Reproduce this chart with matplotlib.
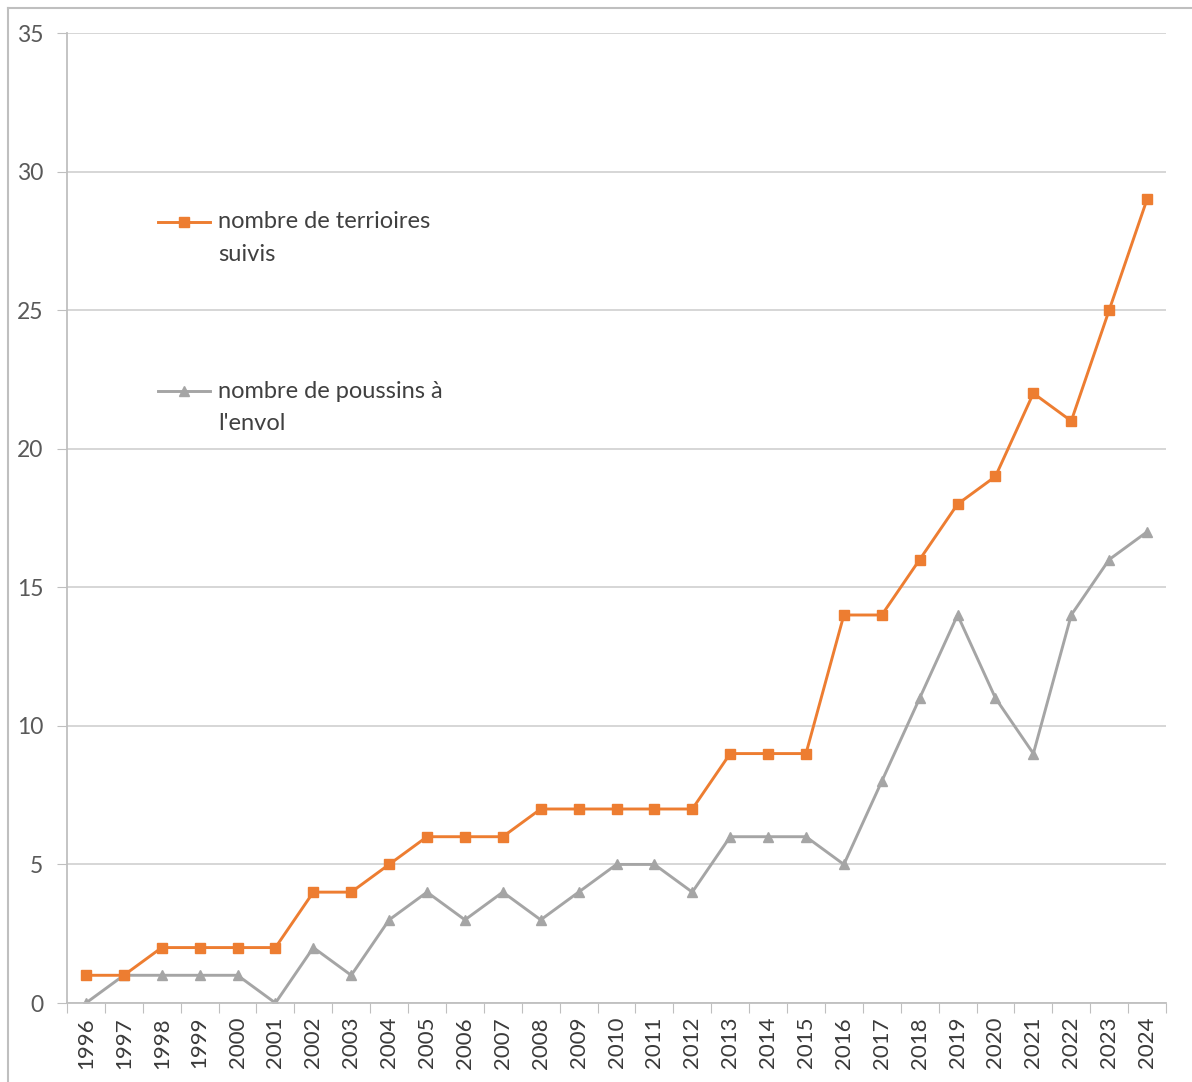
import matplotlib
matplotlib.use("Agg")
import matplotlib.pyplot as plt
from matplotlib.lines import Line2D
from matplotlib.legend_handler import HandlerLine2D
import numpy as np

years = [str(y) for y in range(1996, 2025)]
territoires = [1, 1, 2, 2, 2, 2, 4, 4, 5, 6, 6, 6, 7, 7, 7, 7, 7, 9, 9, 9,
               14, 14, 16, 18, 19, 22, 21, 25, 29]
poussins = [0, 1, 1, 1, 1, 0, 2, 1, 3, 4, 3, 4, 3, 4, 5, 5, 4, 6, 6, 6,
            5, 8, 11, 14, 11, 9, 14, 16, 17]
label_terr = "nombre de terrioires\nsuivis"
label_pous = "nombre de poussins à\nl'envol"
yticks = [0, 5, 10, 15, 20, 25, 30, 35]

plt.rcParams['font.family'] = ['Lato', 'DejaVu Sans']
ORANGE = "#ED7D31"
GRAY = "#A5A5A5"
TXT = "#595959"


class FirstLineHandler(HandlerLine2D):
    def __init__(self, dy, **kw):
        super().__init__(**kw)
        self.dy = dy

    def create_artists(self, legend, orig_handle, xdescent, ydescent, width,
                       height, fontsize, trans):
        arts = super().create_artists(legend, orig_handle, xdescent, ydescent,
                                      width, height, fontsize, trans)
        for a in arts:
            a.set_ydata(np.asarray(a.get_ydata()) + self.dy)
        return arts


fig = plt.figure(figsize=(11.92, 10.82), dpi=100)
ax = fig.add_axes([67/1192, 1 - 1003/1082, (1166-67)/1192, (1003-33)/1082])

x = np.arange(len(years)) + 0.5
l1, = ax.plot(x, territoires, color=ORANGE, lw=2.1, marker='s', ms=7.5,
              label=label_terr, zorder=3)
l2, = ax.plot(x, poussins, color=GRAY, lw=2.1, marker='^', ms=7.5,
              label=label_pous, zorder=2)

ax.set_xlim(0, len(years))
ax.set_ylim(0, 35)
ax.set_yticks(yticks)
ax.set_yticklabels([str(v) for v in yticks], fontsize=16.5, color=TXT)
ax.set_xticks(np.arange(len(years) + 1), minor=False)
ax.set_xticklabels([])
ax.set_xticks(x, minor=True)
ax.set_xticklabels(years, minor=True, rotation=90, fontsize=16, color='#3a3a3a')
ax.tick_params(axis='x', which='major', length=7, color='#BFBFBF', direction='out')
ax.tick_params(axis='x', which='minor', length=0, pad=10)
ax.tick_params(axis='y', length=7, color='#BFBFBF', pad=10)
ax.grid(axis='y', color='#D0D0D0', lw=1.2, zorder=0)
ax.set_axisbelow(True)
for s in ['top', 'right']:
    ax.spines[s].set_visible(False)
for s in ['left', 'bottom']:
    ax.spines[s].set_color('#BFBFBF')
    ax.spines[s].set_linewidth(1.3)

LFS = 17
common = dict(loc='upper left', frameon=False, fontsize=LFS, handlelength=2.2,
              handletextpad=0.35, borderpad=0, borderaxespad=0,
              labelcolor='#404040')
leg1 = ax.legend(handles=[l1], bbox_to_anchor=(0.083, 0.816),
                 handler_map={l1: FirstLineHandler(12.0)}, **common)
for t in leg1.get_texts():
    t.set_linespacing(1.65)
ax.add_artist(leg1)
leg2 = ax.legend(handles=[l2], bbox_to_anchor=(0.083, 0.641),
                 handler_map={l2: FirstLineHandler(12.0)}, **common)
for t in leg2.get_texts():
    t.set_linespacing(1.65)

# outer chart frame
fig.add_artist(Line2D([8/1192, 1], [1 - 8/1082, 1 - 8/1082], color='#BFBFBF', lw=1.5,
                      transform=fig.transFigure))
fig.add_artist(Line2D([8/1192, 8/1192], [0, 1 - 8/1082], color='#BFBFBF', lw=1.5,
                      transform=fig.transFigure))

fig.savefig("out.png", dpi=100)
